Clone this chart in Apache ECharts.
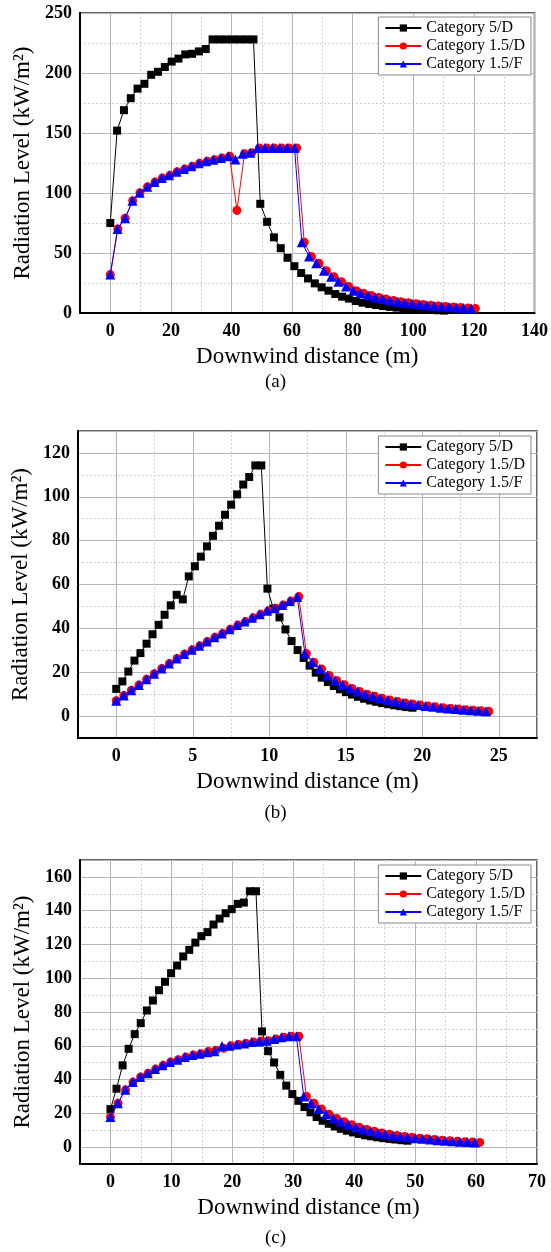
<!DOCTYPE html>
<html>
<head>
<meta charset="utf-8">
<script src="https://cdn.jsdelivr.net/npm/echarts@6/dist/echarts.min.js"></script>
<style>
html,body{margin:0;padding:0;background:#fff;}
#chart{width:551px;height:1252px;}
</style>
</head>
<body>
<div id="chart"></div>
<script>
// ---------- DATA ----------
const seriesNames = ['Category 5/D', 'Category 1.5/D', 'Category 1.5/F'];
const panelLabels = ['(a)', '(b)', '(c)'];
const xTitle = 'Downwind distance (m)';
const yTitle = 'Radiation Level (kW/m\u00B2)';

// Panel (a)
const aX_5D = [0,2.25,4.5,6.75,9,11.25,13.5,15.75,18,20.25,22.5,24.75,27,29.25,31.5,33.75,36,38.25,40.5,42.75,45,47.25,49.5,51.75,54,56.25,58.5,60.75,63,65.25,67.5,69.75,72,74.25,76.5,78.75,81,83.25,85.5,87.75,90,92.25,94.5,96.75,99,101.25,103.5,105.75,108,110.25];
const aY_5D = [75,152,169,179,187,191,198.5,201,205,209.5,212,215.5,216,218,220,228,228,228,228,228,228,228,91,76,63,54,46,39,33.3,28.8,24.7,21.4,18.6,15.8,13.6,12,10,8.6,7.5,6.6,5.8,5.1,4.5,4,3.6,3.2,2.9,2.6,2.3,2.0];
const aX_15D = [0,2.5,4.9,7.4,9.8,12.3,14.8,17.2,19.7,22.1,24.6,27.1,29.5,32,34.4,36.9,39.4,41.8,44.3,46.7,49.2,51.7,54.1,56.6,59,61.5,64,66.4,68.9,71.3,73.8,76.3,78.7,81.2,83.6,86.1,88.6,91,93.5,95.9,98.4,100.9,103.3,105.8,108.2,110.7,113.2,115.6,118.1,120.5];
const aY_15D = [32,70,79,93.5,100.3,105.3,109.2,112.5,114.7,117.8,120,122.2,124.7,126.4,127.8,129.2,130.6,85.5,132.8,133.6,137.5,137.5,137.5,137.5,137.5,137.5,59,47,41.4,35.3,30.3,26.1,22,18.6,16.5,14.6,13,11.6,10.4,9.4,8.5,7.7,7,6.4,5.9,5.4,5,4.6,4.2,3.8];
const aX_15F = [0,2.4,4.9,7.3,9.7,12.2,14.6,17,19.4,21.9,24.3,26.7,29.2,31.6,34,36.5,38.9,41.3,43.7,46.2,48.6,51,53.5,55.9,58.3,60.8,63.2,65.6,68,70.5,72.9,75.3,77.8,80.2,82.6,85.1,87.5,89.9,92.3,94.8,97.2,99.6,102.1,104.5,106.9,109.4,111.8,114.2,116.6,119.1];
const aY_15F = [32,70,79,93.5,100.3,105.3,109.2,112.5,114.7,117.8,120,122.2,124.7,126.4,127.8,129.2,130.6,128,132.8,133.6,137.5,137.5,137.5,137.5,137.5,137.5,59,47,41.4,35.3,30.3,26.1,22,18.6,16.5,14.6,13,11.6,10.4,9.4,8.5,7.7,7,6.4,5.9,5.4,5,4.6,4.2,3.8];

// Panel (b)
const bX_5D = [0,0.4,0.79,1.19,1.58,1.98,2.37,2.77,3.16,3.56,3.95,4.35,4.74,5.14,5.53,5.93,6.32,6.72,7.11,7.51,7.9,8.3,8.69,9.09,9.48,9.88,10.27,10.67,11.06,11.46,11.85,12.25,12.64,13.04,13.43,13.83,14.22,14.62,15.01,15.41,15.8,16.2,16.59,16.99,17.38,17.78,18.17,18.57,18.96,19.36];
const bY_5D = [12.4,15.8,20.3,25.3,28.7,33,37.3,41.6,46.2,50.5,55.3,53.2,63.7,68.3,72.7,77.4,82.2,86.8,91.8,96.4,101.1,105.6,109,114.3,114.3,58.1,49,45,39.5,34.2,30.1,26.5,23,19.8,17.5,15.5,13.7,12.2,10.9,9.8,8.8,7.9,7.1,6.5,5.9,5.4,4.9,4.5,4.1,3.8];
const bX_15D = [0,0.5,0.99,1.49,1.99,2.49,2.98,3.48,3.98,4.47,4.97,5.47,5.96,6.46,6.96,7.46,7.95,8.45,8.95,9.44,9.94,10.44,10.93,11.43,11.93,12.43,12.92,13.42,13.92,14.41,14.91,15.41,15.9,16.4,16.9,17.4,17.89,18.39,18.89,19.38,19.88,20.38,20.87,21.37,21.87,22.37,22.86,23.36,23.86,24.35];
const bY_15D = [7,9.4,11.8,14.2,16.8,19.3,21.7,24,26.3,28.3,30.3,32.1,34,36,37.7,39.6,41.5,43.1,44.8,46.4,48,49.2,50.7,52.5,54.5,28.5,24.5,21.5,18.5,16.2,14.3,12.6,11.2,10,9,8.1,7.3,6.6,6,5.5,5,4.6,4.2,3.8,3.5,3.2,2.9,2.6,2.4,2.2];
const bX_15F = [0,0.49,0.99,1.48,1.97,2.47,2.96,3.45,3.94,4.44,4.93,5.42,5.92,6.41,6.9,7.4,7.89,8.38,8.87,9.37,9.86,10.35,10.85,11.34,11.83,12.33,12.82,13.31,13.8,14.3,14.79,15.28,15.78,16.27,16.76,17.25,17.75,18.24,18.73,19.23,19.72,20.21,20.71,21.2,21.69,22.19,22.68,23.17,23.66,24.16];
const bY_15F = [7,9.4,11.8,14.2,16.8,19.3,21.7,24,26.3,28.3,30.3,32.1,34,36,37.7,39.6,41.5,43.1,44.8,46.4,48,49.2,50.7,52.5,54.3,28.5,24.5,21.5,18.5,16.2,14.3,12.6,11.2,10,9,8.1,7.3,6.6,6,5.5,5,4.6,4.2,3.8,3.5,3.2,2.9,2.6,2.4,2.2];

// Panel (c)
const cX_5D = [0,0.99,1.99,2.98,3.98,4.97,5.97,6.96,7.96,8.95,9.95,10.94,11.94,12.93,13.93,14.92,15.92,16.91,17.91,18.9,19.9,20.89,21.89,22.88,23.88,24.87,25.87,26.86,27.86,28.85,29.85,30.84,31.84,32.83,33.83,34.82,35.82,36.81,37.81,38.8,39.8,40.79,41.79,42.78,43.78,44.77,45.77,46.76,47.76,48.75];
const cY_5D = [22.5,34.6,48.4,58.2,66.9,73.4,80.9,86.8,92.9,97.9,103,107.5,112.9,116.8,121.1,124.9,127.3,131.8,135.3,138.5,140.9,144,144.8,151.5,151.5,68.5,56.8,50.1,42.8,36.4,31.4,27.4,23.7,20.6,17.8,15.6,13.8,12.2,10.8,9.7,8.7,7.8,7,6.4,5.8,5.3,4.9,4.5,4.1,3.8];
const cX_15D = [0,1.24,2.47,3.71,4.95,6.19,7.42,8.66,9.9,11.13,12.37,13.61,14.84,16.08,17.32,18.56,19.79,21.03,22.27,23.5,24.74,25.98,27.21,28.45,29.69,30.93,32.16,33.4,34.64,35.87,37.11,38.35,39.58,40.82,42.06,43.3,44.53,45.77,47.01,48.24,49.48,50.72,51.95,53.19,54.43,55.67,56.9,58.14,59.38,60.61];
const cY_15D = [17.8,26,33.9,38.5,41.5,43.8,46.2,48.4,50.4,51.7,53.3,54.5,55.3,56.6,57.4,58.5,60,60.8,61.4,62.2,62.8,63,64,65.1,65.7,65.7,30,26,22.5,19.5,17,15,13.3,11.8,10.5,9.4,8.4,7.6,6.9,6.3,5.8,5.3,4.9,4.5,4.1,3.8,3.5,3.2,3,2.8];
const cX_15F = [0,1.22,2.44,3.66,4.88,6.1,7.32,8.54,9.76,10.98,12.2,13.42,14.64,15.86,17.08,18.3,19.52,20.74,21.96,23.18,24.4,25.62,26.84,28.06,29.28,30.5,31.72,32.94,34.16,35.38,36.6,37.82,39.04,40.26,41.48,42.7,43.92,45.14,46.36,47.58,48.8,50.02,51.24,52.46,53.68,54.9,56.12,57.34,58.56,59.78];
const cY_15F = [17.8,26,33.9,38.5,41.5,43.8,46.2,48.4,50.4,51.7,53.3,54.5,55.3,56.2,56.8,59.8,60,60.8,61.4,62.2,62.5,63,64,65.1,65.7,65.7,30,26,22.5,19.5,17,15,13.3,11.8,10.5,9.4,8.4,7.6,6.9,6.3,5.8,5.3,4.9,4.5,4.1,3.8,3.5,3.2,3,2.8];

// Axis ranges (min, max, major step)
const xRanges = [[-10, 140, 20], [-2.5, 27.5, 5], [-5, 70, 10]];
const yRanges = [[0, 250, 50], [-10, 130, 20], [-10, 170, 20]];

// ---------- CHART ----------
const FONT = '"Liberation Serif", "Times New Roman", serif';
const grids = [
  {left: 80, right: 14, top: 13, height: 300},
  {left: 78, right: 14, top: 431, height: 307},
  {left: 80, right: 14, top: 860, height: 304}
];
const captionTops = [368, 799, 1224];
const legendTops = [17, 436, 865];

const panels = [
  [[aX_5D, aY_5D], [aX_15D, aY_15D], [aX_15F, aY_15F]],
  [[bX_5D, bY_5D], [bX_15D, bY_15D], [bX_15F, bY_15F]],
  [[cX_5D, cY_5D], [cX_15D, cY_15D], [cX_15F, cY_15F]]
];
const colors = ['#000000', '#ff0000', '#0000ff'];
const symbols = ['rect', 'circle', 'triangle'];
const symbolSizes = [8, 9, 10];

const zip = (xs, ys) => xs.map((x, i) => [x, ys[i]]);

const xAxes = [], yAxes = [], series = [], legends = [], titles = [];
for (let p = 0; p < 3; p++) {
  const [xmin, xmax, xstep] = xRanges[p];
  const [ymin, ymax, ystep] = yRanges[p];
  const common = {
    axisLine: {show: true, onZero: false, lineStyle: {color: '#000', width: 2}},
    axisTick: {show: false},
    splitLine: {show: true, lineStyle: {color: '#b5b5b5', width: 1}},
    minorTick: {show: false, splitNumber: 2},
    minorSplitLine: {show: true, lineStyle: {color: '#d2d2d2', width: 1, type: [2, 2]}},
    axisLabel: {color: '#000', fontFamily: FONT, fontWeight: 'bold', fontSize: 18, showMinLabel: false, showMaxLabel: false},
    nameLocation: 'middle',
    nameTextStyle: {color: '#000', fontFamily: FONT}
  };
  const xa = JSON.parse(JSON.stringify(common));
  Object.assign(xa, {
    type: 'value', gridIndex: p, min: xmin, max: xmax,
    minInterval: xstep, maxInterval: xstep,
    name: xTitle, nameGap: 32
  });
  xa.axisLabel.margin = 9;
  xa.axisLabel.showMaxLabel = (xmax % xstep === 0);
  xa.axisLabel.showMinLabel = (xmin % xstep === 0);
  xa.nameTextStyle.fontSize = 23;
  const ya = JSON.parse(JSON.stringify(common));
  Object.assign(ya, {
    type: 'value', gridIndex: p, min: ymin, max: ymax,
    minInterval: ystep, maxInterval: ystep,
    name: yTitle, nameGap: 46
  });
  ya.axisLabel.margin = 8;
  ya.axisLabel.showMaxLabel = (ymax % ystep === 0);
  ya.axisLabel.showMinLabel = (ymin % ystep === 0);
  ya.nameTextStyle.fontSize = 23;
  xAxes.push(xa);
  yAxes.push(ya);

  for (let s = 0; s < 3; s++) {
    const [xs, ys] = panels[p][s];
    series.push({
      type: 'line', name: seriesNames[s], xAxisIndex: p, yAxisIndex: p,
      data: zip(xs, ys),
      symbol: symbols[s], symbolSize: symbolSizes[s], showAllSymbol: true,
      lineStyle: {color: colors[s], width: 1},
      itemStyle: {color: colors[s]},
      animation: false, z: 3 + s
    });
  }
  legends.push({
    data: seriesNames, orient: 'vertical', right: 20, top: legendTops[p],
    backgroundColor: '#fff', borderColor: '#888', borderWidth: 1,
    padding: [3, 6, 3, 6], itemGap: 2, itemWidth: 36, itemHeight: 9,
    textStyle: {fontFamily: FONT, fontSize: 16, color: '#000', lineHeight: 16},
    selectedMode: false
  });
  titles.push({
    text: panelLabels[p], left: 'center', top: captionTops[p],
    textStyle: {fontFamily: FONT, fontSize: 19, fontWeight: 'normal', color: '#000'}
  });
}

const chart = echarts.init(document.getElementById('chart'), null, {renderer: 'canvas'});
chart.setOption({
  backgroundColor: '#fff',
  animation: false,
  title: titles,
  legend: legends,
  grid: grids.map(g => Object.assign({show: true, borderColor: '#333', borderWidth: 1.5, backgroundColor: 'transparent'}, g)),
  xAxis: xAxes,
  yAxis: yAxes,
  series: series
});
</script>
</body>
</html>
